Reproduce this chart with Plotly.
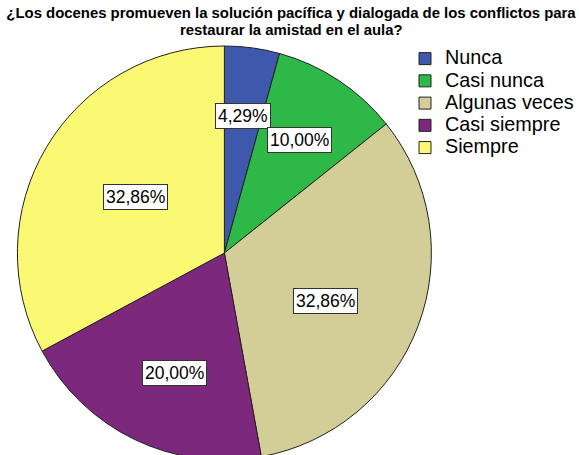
import math
import plotly.graph_objects as go

categories = ["Nunca", "Casi nunca", "Algunas veces", "Casi siempre", "Siempre"]
percentages = [4.29, 10.00, 32.86, 20.00, 32.86]
colors = ["#3E58AC", "#2EB848", "#D3CE97", "#7C287D", "#FBF873"]
title_line1 = "¿Los docenes promueven la solución pacífica y dialogada de los conflictos para"
title_line2 = "restaurar la amistad en el aula?"

# label placement (style only): fraction of radius and angular nudge in degrees
label_radius = [0.667, 0.654, 0.541, 0.628, 0.507]
label_nudge = [0.0, 0.0, 4.9, -3.2, 1.7]

W, H = 579, 466
ML, MR, MT, MB = 16.7, 0, 45.5, 5.5
PW = W - ML - MR
PH = H - MT - MB
PIE_D = 415.0
DX = PIE_D / PW  # pie domain width as a fraction of the plot area
FONT = "Liberation Sans, Arial, sans-serif"

fig = go.Figure(go.Pie(
    labels=[f"<span style='font-size:19.8px'>{c}</span>" for c in categories],
    values=percentages,
    marker=dict(colors=colors, line=dict(color="#222222", width=1)),
    sort=False,
    direction="clockwise",
    rotation=0,
    textinfo="none",
    hoverinfo="percent",
    domain=dict(x=[0, DX], y=[0, 1]),
))

total = sum(percentages)
cum = 0.0
annotations = []
for v, rf, nd in zip(percentages, label_radius, label_nudge):
    mid = (cum + v / 2) / total * 2 * math.pi + math.radians(nd)
    cum += v
    annotations.append(dict(
        x=DX * (0.5 + 0.5 * rf * math.sin(mid)),
        y=0.5 + 0.5 * rf * math.cos(mid),
        xref="paper", yref="paper",
        text=f"{v:.2f}%".replace(".", ","),
        showarrow=False,
        font=dict(family=FONT, size=17.5, color="black"),
        bgcolor="white", bordercolor="#333333", borderwidth=1, borderpad=2,
        xanchor="center", yanchor="middle",
    ))

# second title line
annotations.append(dict(
    x=(291 - ML) / PW, y=1 + (MT - 29.5) / PH,
    xref="paper", yref="paper", xanchor="center", yanchor="middle",
    text="<b>" + title_line2 + "</b>", showarrow=False,
    font=dict(family=FONT, size=14.9, color="black"),
))

fig.update_layout(
    width=W, height=H,
    margin=dict(l=ML, r=MR, t=MT, b=MB, pad=0),
    paper_bgcolor="white",
    plot_bgcolor="white",
    title=dict(
        text="<b>" + title_line1 + "</b>",
        x=291 / W, xref="container", xanchor="center",
        y=1 - 13 / H, yref="container", yanchor="middle",
        font=dict(family=FONT, size=14.9, color="black"),
    ),
    showlegend=True,
    legend=dict(
        x=(405 - ML) / PW, xref="paper", xanchor="left",
        y=1 - (42 - MT) / PH, yref="paper", yanchor="top",
        font=dict(family=FONT, size=14.8, color="black"),
        bgcolor="rgba(0,0,0,0)",
        itemclick=False,
    ),
    annotations=annotations,
)

fig.write_html(
    "out.html",
    config={"displayModeBar": False},
    post_script="document.body.style.margin='0';document.body.style.overflow='hidden';"
                "document.documentElement.style.overflow='hidden';",
)
